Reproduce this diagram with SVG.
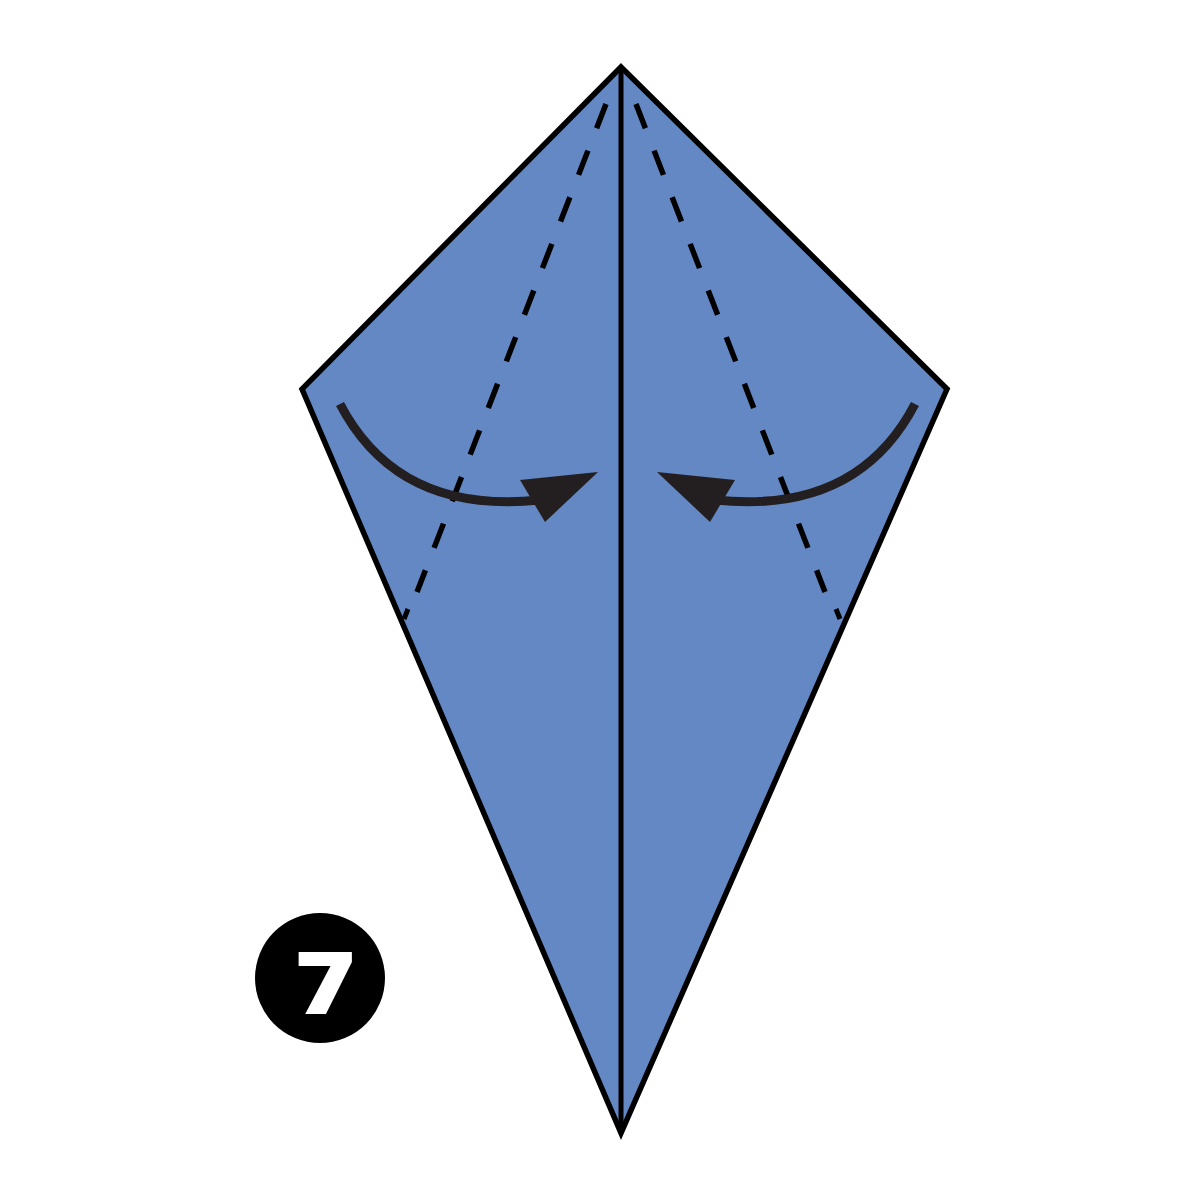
<svg xmlns="http://www.w3.org/2000/svg" width="1200" height="1200" viewBox="0 0 1200 1200">
<style>
.paper{fill:#6388c4;stroke:#000;stroke-width:5.5;stroke-linejoin:miter;stroke-miterlimit:10}
.crease{stroke:#000;stroke-width:5;fill:none}
.valley{stroke:#000;stroke-width:5.5;fill:none;stroke-dasharray:26 24}
.tick{stroke:#000;stroke-width:5}
.arc{stroke:#231f20;stroke-width:9;fill:none;stroke-linecap:butt}
.head{fill:#231f20}
</style>
<rect width="1200" height="1200" fill="#fff"/>
<g id="kite">
<polygon class="paper" points="621,67 947,389 621,1133 302,389"/>
<line class="crease" x1="621" y1="67" x2="621" y2="1133"/>
</g>
<g id="fold-lines">
<line class="valley" x1="606" y1="104" x2="417" y2="592"/>
<line class="tick" x1="408" y1="609" x2="404" y2="619"/>
<line class="valley" x1="636" y1="104" x2="825" y2="592"/>
<line class="tick" x1="836" y1="609" x2="840" y2="619"/>
</g>
<g id="connectors">
<g id="arrow-left">
<path class="arc" d="M340,404 Q398,515 540,500"/>
<polygon class="head" points="598,472 520,480 545,522"/>
</g>
<g id="arrow-right">
<path class="arc" d="M915,404 Q857,515 715,500"/>
<polygon class="head" points="657,472 735,480 710,522"/>
</g>
</g>
<g id="step-badge">
<circle cx="320" cy="978" r="65" fill="#000"/>
<text transform="translate(325,1014) scale(1.2,1)" x="0" y="0" text-anchor="middle" font-family="Open Sans, Roboto, sans-serif" font-weight="800" font-size="86" fill="#fff">7</text>
</g>
</svg>
